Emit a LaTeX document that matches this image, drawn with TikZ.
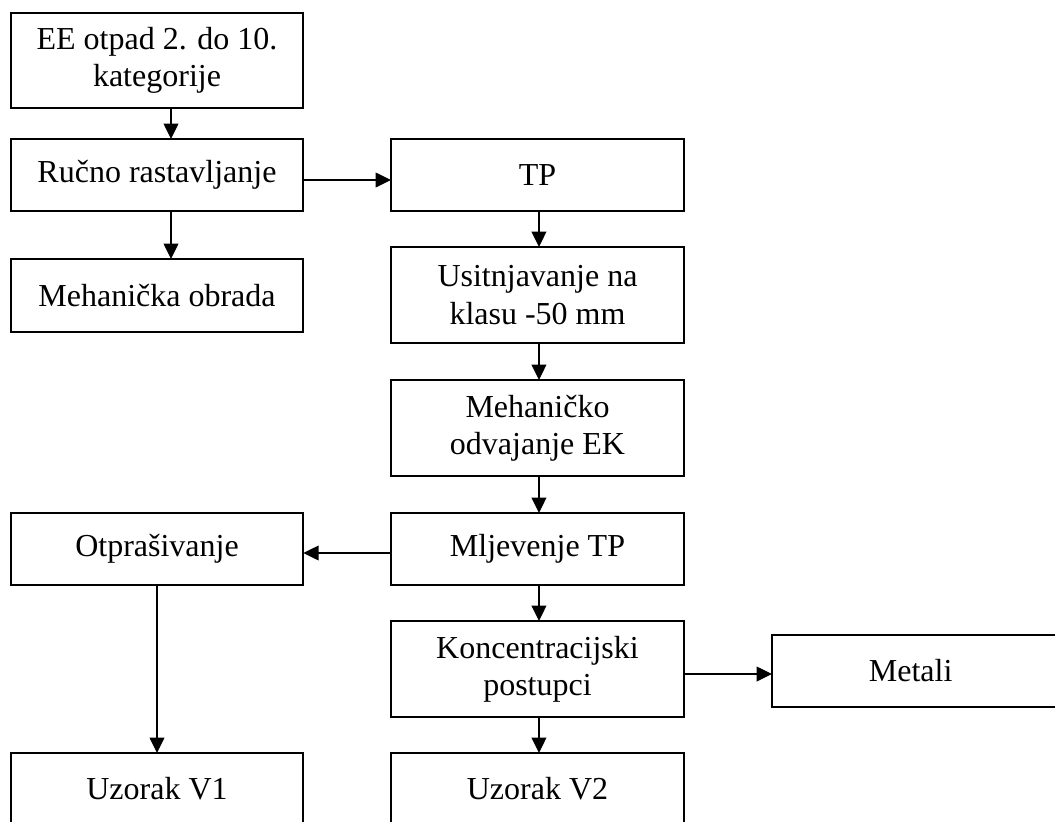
\documentclass[tikz,border=0pt]{standalone}
\usepackage{fontspec}
\setmainfont{Liberation Serif}
\usetikzlibrary{arrows.meta}
\begin{document}
\begin{tikzpicture}[x=0.75pt,y=-0.75pt,
  box/.style={draw,line width=1.4pt,inner sep=0pt,outer sep=0pt,align=center,
    font=\fontsize{24}{28}\selectfont},
  arr/.style={line width=1.1pt,-{Triangle[length=11.5pt,width=11pt]}}]
\useasboundingbox (0,0) rectangle (1055,821);
\clip (0,0) rectangle (1055,821);
\node[box,minimum width=219.4pt,minimum height=71.25pt] (b1) at (157,60.5) {EE otpad 2. do 10.\\kategorije};
\node[box,minimum width=219.4pt,minimum height=54pt] (b2) at (157,175) {Ručno rastavljanje};
\node[box,minimum width=219.4pt,minimum height=54.75pt] (b3) at (157,295.5) {Mehanička obrada};
\node[box,minimum width=219.75pt,minimum height=54pt] (tp) at (537.5,175) {TP};
\node[box,minimum width=219.75pt,minimum height=72pt] (us) at (537.5,295) {Usitnjavanje na\\klasu -50 mm};
\node[box,minimum width=219.75pt,minimum height=72pt] (me) at (537.5,428) {Mehaničko\\odvajanje EK};
\node[box,minimum width=219.75pt,minimum height=54pt] (ml) at (537.5,549) {Mljevenje TP};
\node[box,minimum width=219.4pt,minimum height=54pt] (ot) at (157,549) {Otprašivanje};
\node[box,minimum width=219.75pt,minimum height=72pt] (ko) at (537.5,669) {Koncentracijski\\postupci};
\node[box,minimum width=231pt,minimum height=54pt] (mt) at (926,671) {\hspace*{-23pt}Metali};
\node[box,minimum width=219.4pt,minimum height=53.25pt] (v1) at (157,788.5) {Uzorak V1};
\node[box,minimum width=219.75pt,minimum height=53.25pt] (v2) at (537.5,788.5) {Uzorak V2};
\draw[arr] ([xshift=10.5pt]b1.south) -- ([xshift=10.5pt]b2.north);
\draw[arr] ([xshift=10.5pt]b2.south) -- ([xshift=10.5pt]b3.north);
\draw[arr] ([yshift=-3.75pt]b2.east) -- ([yshift=-3.75pt]tp.west);
\draw[arr] ([xshift=1.1pt]tp.south) -- ([xshift=1.1pt]us.north);
\draw[arr] ([xshift=1.1pt]us.south) -- ([xshift=1.1pt]me.north);
\draw[arr] ([xshift=1.1pt]me.south) -- ([xshift=1.1pt]ml.north);
\draw[arr] ([yshift=-3pt]ml.west) -- ([yshift=-3pt]ot.east);
\draw[arr] (ot.south) -- (v1.north);
\draw[arr] ([xshift=1.1pt]ml.south) -- ([xshift=1.1pt]ko.north);
\draw[arr] ([yshift=-3.75pt]ko.east) -- ([yshift=-2.25pt]mt.west);
\draw[arr] ([xshift=1.1pt]ko.south) -- ([xshift=1.1pt]v2.north);
\end{tikzpicture}
\end{document}
